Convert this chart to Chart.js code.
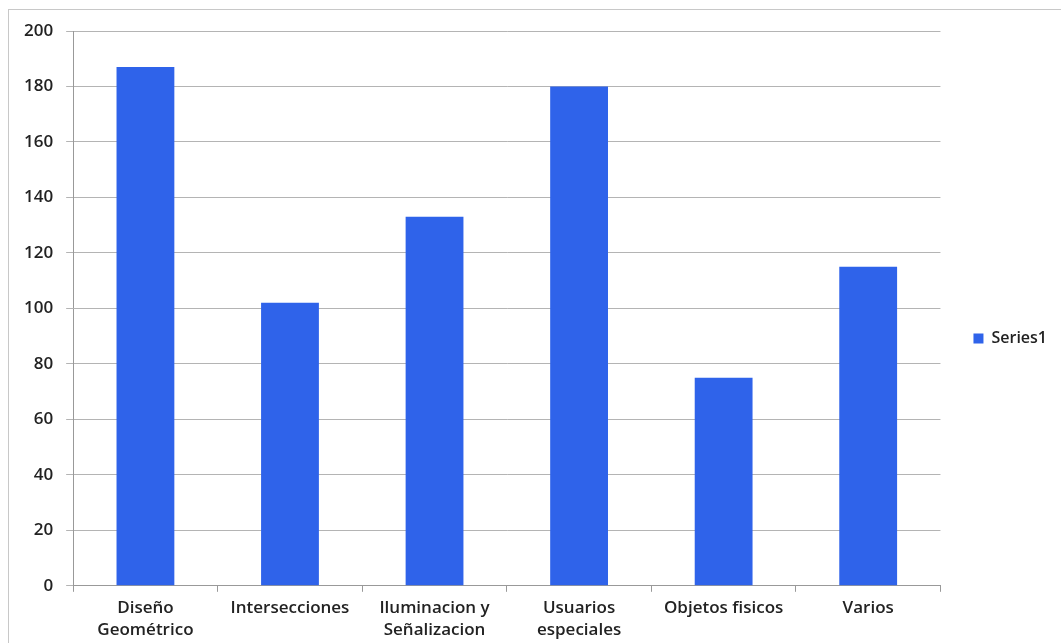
<!DOCTYPE html>
<html>
<head>
<meta charset="utf-8">
<script src="https://cdn.jsdelivr.net/npm/chart.js@4.4.0/dist/chart.umd.min.js"></script>
<style>
  html, body { margin: 0; padding: 0; background: #fff; overflow: hidden; }
  #frame { position: absolute; left: 8px; top: 9px; width: 1060px; height: 640px; border: 1px solid #c8c8c8; box-sizing: border-box; }
  #wrap { position: absolute; left: 0; top: 0; width: 1061px; height: 646px; }
</style>
</head>
<body>
<div id="frame"></div>
<div id="wrap"><canvas id="chart"></canvas></div>
<script>
// data
var categories = [['Diseño', 'Geométrico'], 'Intersecciones', ['Iluminacion y', 'Señalizacion'], ['Usuarios', 'especiales'], 'Objetos fisicos', 'Varios'];
var series1 = [187, 102, 133, 180, 75, 115];
var yTicks = [0, 20, 40, 60, 80, 100, 120, 140, 160, 180, 200];

var FONT = { family: 'Open Sans', size: 17, weight: '600', lineHeight: 1.3 };

new Chart(document.getElementById('chart'), {
  type: 'bar',
  data: {
    labels: categories,
    datasets: [{
      label: 'Series1',
      data: series1,
      backgroundColor: '#2f63ea',
      borderWidth: 0,
      barPercentage: 0.8,
      categoryPercentage: 0.5
    }]
  },
  options: {
    responsive: true, maintainAspectRatio: false,
    animation: false,
    layout: { padding: { left: 11, right: 4, top: 31, bottom: 0 } },
    plugins: {
      tooltip: { enabled: false },
      legend: {
        position: 'right',
        labels: { color: '#222', font: { family: 'Open Sans', size: 16, weight: '600' }, boxWidth: 10, boxHeight: 10, padding: 33 }
      }
    },
    scales: {
      x: {
        grid: { drawOnChartArea: false, drawTicks: true, tickLength: 6, offset: true, color: '#999' },
        border: { color: '#999' },
        ticks: { color: '#222', font: FONT, padding: 5, maxRotation: 0, autoSkip: false }
      },
      y: {
        min: 0, max: 200,
        afterBuildTicks: function(axis) { axis.ticks = yTicks.map(function(v) { return { value: v }; }); },
        grid: { color: '#b4b4b4', tickLength: 7 },
        border: { color: '#999' },
        ticks: { color: '#222', font: FONT, padding: 13 }
      }
    }
  }
});
</script>
</body>
</html>
